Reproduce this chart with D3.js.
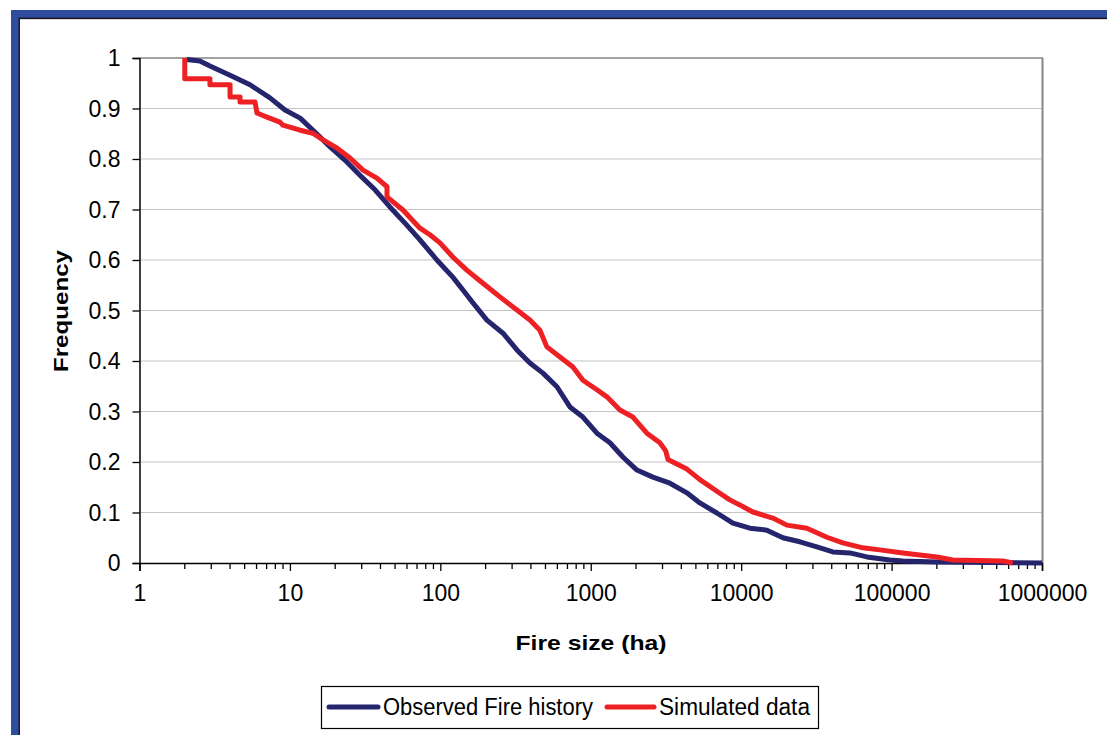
<!DOCTYPE html>
<html>
<head>
<meta charset="utf-8">
<script src="https://cdn.jsdelivr.net/npm/d3@7/dist/d3.min.js"></script>
<style>
  html, body { margin: 0; padding: 0; background: #fff; }
  svg { display: block; }
  text { font-family: "Liberation Sans", Arial, sans-serif; fill: #000; }
</style>
</head>
<body>
<svg id="chart" width="1107" height="735"></svg>
<script>
// ---- Data (fire size in ha, cumulative frequency) ----
const xTickValues = [1, 10, 100, 1000, 10000, 100000, 1000000];
const xTickLabels = ["1", "10", "100", "1000", "10000", "100000", "1000000"];
const yTickValues = [0, 0.1, 0.2, 0.3, 0.4, 0.5, 0.6, 0.7, 0.8, 0.9, 1];
const yTickLabels = ["0", "0.1", "0.2", "0.3", "0.4", "0.5", "0.6", "0.7", "0.8", "0.9", "1"];
const seriesNames = ["Observed Fire history", "Simulated data"];

const observedSize = [2.06, 2.52, 2.94, 4.0, 5.43, 7.37, 9.27, 11.7, 14.7, 18.5, 23.2, 29.2, 36.8, 46.2, 58.2, 73.2, 94.9, 121, 141, 165, 204, 261, 323, 394, 481, 596, 727, 887, 1099, 1341, 1636, 2027, 2589, 3358, 4356, 5316, 6895, 8810, 11430, 14820, 18930, 24560, 31860, 40690, 52790, 68470, 97360, 118800, 199900, 1000000];
const observedFreq = [0.997, 0.994, 0.984, 0.966, 0.947, 0.921, 0.897, 0.881, 0.853, 0.824, 0.798, 0.768, 0.739, 0.705, 0.673, 0.640, 0.600, 0.566, 0.541, 0.515, 0.481, 0.455, 0.422, 0.396, 0.376, 0.349, 0.309, 0.289, 0.257, 0.238, 0.210, 0.184, 0.170, 0.158, 0.139, 0.119, 0.099, 0.079, 0.069, 0.065, 0.050, 0.042, 0.032, 0.022, 0.020, 0.012, 0.006, 0.004, 0.002, 0.0];

const simulatedSize = [2.0, 2.0, 2.94, 2.94, 4.0, 4.0, 4.66, 4.66, 5.86, 6.04, 7.04, 8.59, 8.99, 11.7, 14.2, 16.6, 20.5, 25.1, 30.6, 37.9, 44.2, 44.2, 56.4, 73.2, 85.3, 99.4, 121, 150, 192, 249, 323, 394, 459, 511, 624, 761, 887, 1099, 1281, 1562, 1906, 2361, 2881, 3150, 3260, 4356, 5316, 6895, 8400, 9800, 11960, 16240, 20120, 27330, 37120, 47430, 64420, 83560, 118800, 154100, 199900, 255400, 548800, 639400];
const simulatedFreq = [1.0, 0.959, 0.959, 0.947, 0.947, 0.923, 0.923, 0.913, 0.913, 0.891, 0.883, 0.873, 0.867, 0.857, 0.851, 0.838, 0.822, 0.802, 0.778, 0.762, 0.745, 0.725, 0.699, 0.663, 0.650, 0.634, 0.606, 0.580, 0.554, 0.527, 0.501, 0.481, 0.461, 0.428, 0.408, 0.388, 0.362, 0.343, 0.329, 0.303, 0.289, 0.257, 0.238, 0.222, 0.205, 0.186, 0.165, 0.142, 0.125, 0.115, 0.101, 0.089, 0.075, 0.069, 0.051, 0.040, 0.030, 0.026, 0.020, 0.016, 0.012, 0.006, 0.004, 0.0];

const seriesColors = ["#25256e", "#ed2024"];

// ---- Layout ----
const FONT = '"Liberation Sans", Arial, sans-serif';
const svg = d3.select("#chart");
const plot = { left: 139.5, right: 1042, top: 58, bottom: 563 };

// Frame
svg.append("rect").attr("x", 11).attr("y", 10).attr("width", 1200).attr("height", 800).attr("fill", "#2e4d9e");
svg.append("rect").attr("x", 18.5).attr("y", 17.5).attr("width", 1200).attr("height", 800).attr("fill", "#1b1b2b");
svg.append("rect").attr("x", 20).attr("y", 19.2).attr("width", 1200).attr("height", 800).attr("fill", "#ffffff");

const x = d3.scaleLog().domain([1, 1000000]).range([plot.left, plot.right]);
const y = d3.scaleLinear().domain([0, 1]).range([plot.bottom, plot.top]);

// Gridlines
svg.append("g").selectAll("line").data(yTickValues.filter(v => v > 0 && v < 1)).join("line")
  .attr("x1", plot.left).attr("x2", plot.right)
  .attr("y1", d => y(d)).attr("y2", d => y(d))
  .attr("stroke", "#c4c4c4").attr("stroke-width", 1.2);

// Plot border (top & right, gray)
svg.append("line").attr("x1", plot.left).attr("x2", plot.right + 1).attr("y1", plot.top).attr("y2", plot.top)
  .attr("stroke", "#858585").attr("stroke-width", 1.5);
svg.append("line").attr("x1", plot.right + 0.5).attr("x2", plot.right + 0.5).attr("y1", plot.top).attr("y2", plot.bottom)
  .attr("stroke", "#858585").attr("stroke-width", 2);

// Y axis
const yAxis = d3.axisLeft(y).tickValues(yTickValues).tickSize(7).tickFormat((d, i) => yTickLabels[i]).tickPadding(12);
const gy = svg.append("g").attr("transform", `translate(${plot.left},0)`).call(yAxis)
  .attr("font-size", 23).attr("font-family", FONT);
gy.select(".domain").attr("stroke", "#000").attr("stroke-width", 1.5);
gy.selectAll(".tick line").attr("stroke", "#000").attr("stroke-width", 1.3);
gy.selectAll(".tick text").attr("font-size", 23).style("font-size", "23px").attr("fill", "#000").attr("dy", "0.34em");

// X axis minor ticks
const minorVals = [];
for (let e = 0; e < 6; e++) for (let m = 2; m <= 9; m++) minorVals.push(m * Math.pow(10, e));
svg.append("g").selectAll("line").data(minorVals).join("line")
  .attr("x1", d => x(d)).attr("x2", d => x(d))
  .attr("y1", plot.bottom).attr("y2", plot.bottom + 6)
  .attr("stroke", "#000").attr("stroke-width", 1.3);

const xAxis = d3.axisBottom(x).tickValues(xTickValues).tickSize(8).tickFormat((d, i) => xTickLabels[i]).tickPadding(14);
const gx = svg.append("g").attr("transform", `translate(0,${plot.bottom})`).call(xAxis)
  .attr("font-size", 23).attr("font-family", FONT);
gx.select(".domain").attr("stroke", "#000").attr("stroke-width", 1.5);
gx.selectAll(".tick line").attr("stroke", "#000").attr("stroke-width", 1.3);
gx.selectAll(".tick text").attr("font-size", 23).style("font-size", "23px").attr("fill", "#000");

// Axis titles
svg.append("text").attr("x", 591).attr("y", 650).attr("text-anchor", "middle")
  .style("font-size", "21px").style("font-weight", "bold").text("Fire size (ha)")
  .attr("textLength", 151).attr("lengthAdjust", "spacingAndGlyphs");
svg.append("text").attr("transform", "translate(68,311) rotate(-90)").attr("text-anchor", "middle")
  .style("font-size", "21px").style("font-weight", "bold").text("Frequency")
  .attr("textLength", 122).attr("lengthAdjust", "spacingAndGlyphs");

// Series
const line = d3.line().x(d => x(d[0])).y(d => y(d[1]));
const obs = observedSize.map((s, i) => [s, observedFreq[i]]);
const sim = simulatedSize.map((s, i) => [s, simulatedFreq[i]]);
[obs, sim].forEach((data, i) => {
  svg.append("path").datum(data).attr("d", line)
    .attr("fill", "none").attr("stroke", seriesColors[i]).attr("stroke-width", 5)
    .attr("stroke-linejoin", "round").attr("stroke-linecap", "butt");
});

// Legend
const lg = svg.append("g");
lg.append("rect").attr("x", 321.5).attr("y", 686.5).attr("width", 497).attr("height", 42)
  .attr("fill", "#fff").attr("stroke", "#000").attr("stroke-width", 1.2);
const legendItems = [
  { x1: 329, x2: 378, tx: 383, tw: 210 },
  { x1: 607, x2: 654, tx: 659, tw: 151 }
];
legendItems.forEach((it, i) => {
  lg.append("line").attr("x1", it.x1).attr("x2", it.x2).attr("y1", 707).attr("y2", 707)
    .attr("stroke", seriesColors[i]).attr("stroke-width", 5).attr("stroke-linecap", "round");
  lg.append("text").attr("x", it.tx).attr("y", 715).style("font-size", "23px").text(seriesNames[i])
    .attr("textLength", it.tw).attr("lengthAdjust", "spacingAndGlyphs");
});
</script>
</body>
</html>
